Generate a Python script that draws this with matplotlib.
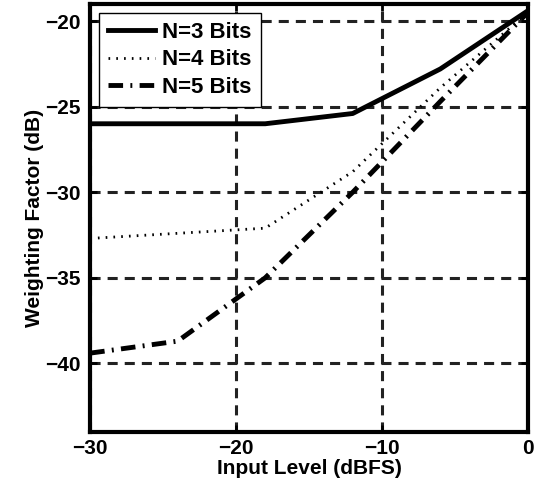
import matplotlib
matplotlib.use('Agg')
import matplotlib.pyplot as plt

plt.rcParams['font.family'] = ['Liberation Sans', 'DejaVu Sans']
plt.rcParams['font.weight'] = 'bold'

input_level = [-30, -24, -18, -12, -6, 0]
n3_bits = [-26.0, -26.0, -26.0, -25.4, -22.8, -19.4]
n4_bits = [-32.7, -32.4, -32.1, -28.8, -23.9, -19.5]
n5_bits = [-39.4, -38.7, -35.0, -30.0, -24.7, -19.5]
labels = ['N=3 Bits', 'N=4 Bits', 'N=5 Bits']


def main():
    fig = plt.figure(figsize=(5.43, 4.93), dpi=100)
    ax = fig.add_axes([0.166, 0.124, 0.806, 0.868])

    ax.plot(input_level, n3_bits, color='black', lw=3.5, ls='-', label=labels[0])
    ax.plot(input_level, n4_bits, color='black', lw=2, ls=(0, (0.6, 2.2)), label=labels[1])
    ax.plot(input_level, n5_bits, color='black', lw=3.5, ls=(0, (3, 1.5, 0.4, 1.5)), label=labels[2])

    ax.set_xlim(-30, 0)
    ax.set_ylim(-44, -19)
    ax.set_xticks([-30, -20, -10, 0])
    ax.set_yticks([-40, -35, -30, -25, -20])

    # dashed grid
    ax.set_axisbelow(True)
    ax.grid(True, color='#222222', ls=(0, (3.3, 2.3)), lw=2.2)
    ax.tick_params(direction='in', length=5, width=2, labelsize=15, pad=5,
                   top=True, right=True)
    ax.tick_params(axis='y', pad=7)
    for spine in ax.spines.values():
        spine.set_linewidth(3)

    ax.set_xlabel('Input Level (dBFS)', fontsize=15, fontweight='bold', labelpad=1)
    ax.set_ylabel('Weighting Factor (dB)', fontsize=15, fontweight='bold', labelpad=1)

    leg = ax.legend(loc='upper left', fontsize=16, frameon=True, fancybox=False,
                    edgecolor='black', framealpha=1, handlelength=2.1,
                    handletextpad=0.35, borderaxespad=0.4, labelspacing=0.3,
                    borderpad=0.4)
    leg.get_frame().set_linewidth(1.0)
    for t in leg.get_texts():
        t.set_fontweight('bold')

    fig.savefig('out.png', dpi=100)


if __name__ == "__main__":
    main()
